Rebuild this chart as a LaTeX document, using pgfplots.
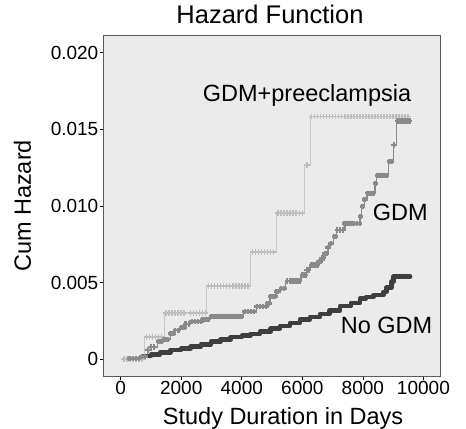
\documentclass[border=0pt]{standalone}
\usepackage{pgfplots}
\pgfplotsset{compat=1.18}
\usepackage{fontspec}
\setmainfont{Liberation Sans}
\definecolor{bgc}{HTML}{EBEBEB}
\definecolor{framec}{HTML}{5A5A5A}
\definecolor{lightc}{HTML}{C6C6C6}
\definecolor{lightm}{HTML}{BDBDBD}
\definecolor{medc}{HTML}{8A8A8A}
\definecolor{darkc}{HTML}{3E3E3E}
\begin{document}
\begin{tikzpicture}
\begin{axis}[
  scale only axis, width=336bp, height=340bp,
  xmin=-552, xmax=10548, ymin=-0.00109, ymax=0.02108,
  scaled ticks=false,
  axis background/.style={fill=bgc},
  axis line style={draw=framec, line width=1bp},
  tick pos=left, tick align=outside, major tick length=4bp,
  tick style={draw=black, line width=0.6bp},
  xtick={0,2000,4000,6000,8000,10000},
  xticklabels={0,2000,4000,6000,8000,10000},
  ytick={0,0.005,0.010,0.015,0.020},
  yticklabels={0,0.005,0.010,0.015,0.020},
  /pgf/number format/assume math mode=true,
  ticklabel style={font=\fontsize{19bp}{22bp}\selectfont},
  xticklabel style={inner sep=1.5bp},
  yticklabel style={inner sep=1.5bp},
  title={Hazard Function},
  title style={at={(axis description cs:0.494,1)}, anchor=base, yshift=7bp, font=\fontsize{25.5bp}{29bp}\selectfont},
  xlabel={Study Duration in Days},
  xlabel style={at={(axis description cs:0.533,0)}, anchor=base, yshift=-48bp, font=\fontsize{23.5bp}{28bp}\selectfont},
  ylabel={Cum Hazard},
  ylabel style={at={(axis description cs:-0.2173,0.5)}, anchor=base, font=\fontsize{23.5bp}{28bp}\selectfont},
  clip=true,
]
% GDM+preeclampsia
\addplot[const plot, color=lightc, line width=0.9bp] coordinates {
(0,0) (770,0.00145) (1440,0.00303) (2840,0.00476) (4294,0.00698) (5160,0.00952) (6060,0.01265) (6254,0.01583) (9560,0.01583)};
\addplot[only marks, mark=+, mark size=2.8bp, color=lightm, line width=1.6bp] coordinates {
(100,0) (200,0) (300,0) (400,0) (500,0) (600,0) (700,0)
(850,0.00145) (950,0.00145) (1050,0.00145) (1150,0.00145) (1250,0.00145) (1350,0.00145)
(1500,0.00303) (1600,0.00303) (1700,0.00303) (1800,0.00303) (1900,0.00303) (2000,0.00303) (2100,0.00303) (2300,0.00303) (2400,0.00303) (2500,0.00303) (2600,0.00303) (2700,0.00303) (2800,0.00303)
(2900,0.00476) (3000,0.00476) (3100,0.00476) (3200,0.00476) (3300,0.00476) (3400,0.00476) (3500,0.00476) (3600,0.00476) (3700,0.00476) (3800,0.00476) (3900,0.00476) (4000,0.00476) (4100,0.00476) (4200,0.00476)
(4350,0.00698) (4450,0.00698) (4550,0.00698) (4650,0.00698) (4750,0.00698) (4850,0.00698) (4950,0.00698) (5050,0.00698)
(5200,0.00952) (5300,0.00952) (5400,0.00952) (5500,0.00952) (5600,0.00952) (5700,0.00952) (5800,0.00952) (5900,0.00952) (6000,0.00952)
(6150,0.01265)
(6300,0.01583) (6400,0.01583) (6500,0.01583) (6600,0.01583) (6700,0.01583) (6800,0.01583) (6900,0.01583) (7000,0.01583) (7100,0.01583) (7200,0.01583) (7300,0.01583) (7400,0.01583) (7500,0.01583) (7600,0.01583) (7700,0.01583) (7800,0.01583) (7900,0.01583) (8000,0.01583) (8100,0.01583) (8200,0.01583) (8300,0.01583) (8400,0.01583) (8500,0.01583) (8600,0.01583) (8700,0.01583) (8800,0.01583) (8900,0.01583) (9000,0.01583) (9100,0.01583) (9200,0.01583) (9300,0.01583) (9400,0.01583) (9500,0.01583)};
% GDM
\addplot[const plot, color=medc, line width=1.6bp] coordinates {
(0,0) (300,0.00005) (700,0.0002) (880,0.0006) (1000,0.0008) (1210,0.00115) (1450,0.0013) (1650,0.0017) (1800,0.0019) (1980,0.00209) (2150,0.0023) (2310,0.00245) (2700,0.00262) (2960,0.0028) (4050,0.0031) (4490,0.00343) (4820,0.00365) (4930,0.00409) (5150,0.00441) (5260,0.00463) (5450,0.0051) (5950,0.0055) (6144,0.00582) (6254,0.00615) (6529,0.00637) (6640,0.0066) (6749,0.00691) (6850,0.0073) (6914,0.00756) (7024,0.008) (7135,0.00843) (7400,0.00887) (7906,0.0093) (7961,0.00995) (8050,0.0104) (8127,0.01083) (8401,0.01148) (8456,0.0120) (8842,0.01289) (9007,0.01397) (9110,0.01554) (9560,0.01554)};
\addplot[only marks, mark=+, mark size=2.6bp, color=medc, line width=2.6bp] coordinates {
(300,0.00005) (400,0.00005) (500,0.00005) (600,0.00005)
(700,0.0002) (800,0.0002) (900,0.0006) (1000,0.0008) (1100,0.0008)
(1250,0.00115) (1350,0.00115) (1450,0.0013) (1550,0.0013) (1650,0.0017) (1750,0.0017)
(1800,0.0019) (1900,0.0019) (2000,0.00209) (2100,0.00209) (2150,0.0023) (2250,0.0023)
(2350,0.00245) (2450,0.00245) (2550,0.00245) (2650,0.00245) (2700,0.00262) (2800,0.00262) (2900,0.00262)
(3000,0.0028) (3100,0.0028) (3200,0.0028) (3300,0.0028) (3400,0.0028) (3500,0.0028) (3600,0.0028) (3700,0.0028) (3800,0.0028) (3900,0.0028) (4000,0.0028)
(4100,0.0031) (4200,0.0031) (4300,0.0031) (4400,0.0031)
(4500,0.00343) (4600,0.00343) (4700,0.00343) (4800,0.00343) (4850,0.00365) (4900,0.00365)
(4950,0.00409) (5050,0.00409) (5100,0.00409) (5150,0.00441) (5200,0.00441) (5300,0.00463) (5400,0.00463)
(5500,0.0051) (5600,0.0051) (5700,0.0051) (5800,0.0051) (5900,0.0051) (6000,0.0055) (6100,0.0055)
(6150,0.00582) (6200,0.00582) (6300,0.00615) (6400,0.00615) (6500,0.00615) (6550,0.00637) (6600,0.00637)
(6650,0.0066) (6700,0.0066) (6750,0.00691) (6800,0.00691) (6850,0.0073) (6950,0.00756) (7050,0.008) (7100,0.008)
(7150,0.00843) (7250,0.00843) (7350,0.00843) (7400,0.00887) (7500,0.00887) (7600,0.00887) (7700,0.00887) (7800,0.00887) (7900,0.00887)
(7930,0.0093) (7980,0.00995) (8060,0.0104) (8150,0.01083) (8250,0.01083) (8350,0.01083) (8420,0.01148)
(8480,0.0120) (8580,0.0120) (8680,0.0120) (8780,0.0120) (8880,0.01289) (8950,0.01289) (9030,0.01397)
(9150,0.01554) (9250,0.01554) (9350,0.01554) (9450,0.01554) (9550,0.01554)};
% No GDM
\addplot[const plot, color=darkc, line width=4.5bp, line join=round, line cap=round] coordinates {
(700,0.0001) (770,0.00022) (1000,0.0003) (1300,0.00045) (1650,0.00061) (2000,0.0007) (2310,0.00082) (2650,0.00098) (2975,0.00115) (3300,0.0013) (3634,0.00145) (4000,0.00155) (4295,0.00165) (4602,0.0018) (4955,0.002) (5262,0.00218) (5600,0.00238) (5923,0.0026) (6250,0.00275) (6584,0.00295) (6900,0.00318) (7245,0.00347) (7600,0.00368) (7906,0.00395) (8100,0.00405) (8346,0.00418) (8676,0.0044) (8787,0.00468) (8952,0.00506) (9007,0.0054) (9560,0.0054)};
\node[anchor=base west, font=\fontsize{23.5bp}{28bp}\selectfont, inner sep=0pt] at (axis description cs:0.2937,0.8068) {GDM+preeclampsia};
\node[anchor=base west, font=\fontsize{23.5bp}{28bp}\selectfont, inner sep=0pt] at (axis description cs:0.7997,0.4559) {GDM};
\node[anchor=base west, font=\fontsize{23.5bp}{28bp}\selectfont, inner sep=0pt] at (axis description cs:0.7042,0.1256) {No GDM};
\end{axis}
\pgfresetboundingbox
\path ([shift={(-104bp,-53bp)}]current axis.south west) rectangle ([shift={(26bp,36bp)}]current axis.north east);
\end{tikzpicture}
\end{document}
